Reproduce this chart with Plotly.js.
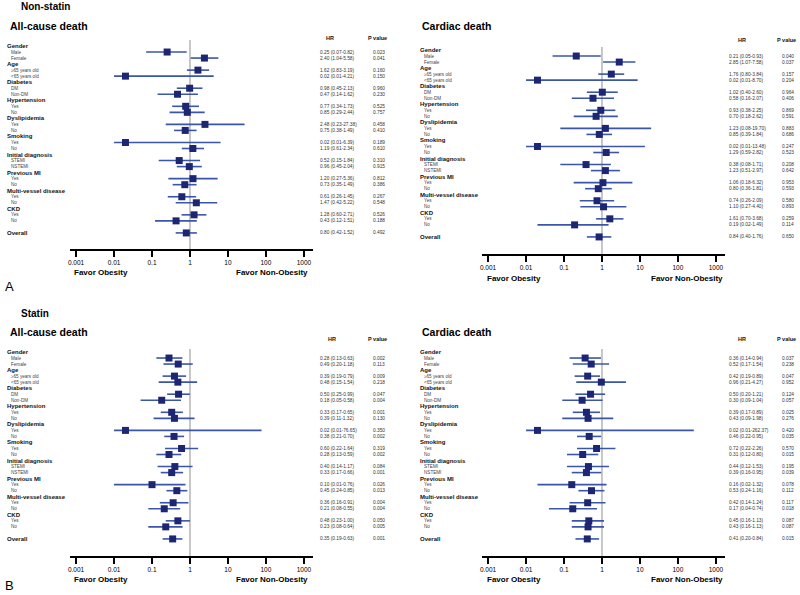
<!DOCTYPE html>
<html>
<head>
<meta charset="utf-8">
<script src="https://cdn.plot.ly/plotly-3.0.1.min.js"></script>
<style>html,body{margin:0;padding:0;background:#fff;}#chart{width:800px;height:595px;}</style>
</head>
<body>
<div id="chart"></div>
<script>
// ---------- DATA ----------
const groups = ["Gender","Age","Diabetes","Hypertension","Dyslipidemia","Smoking","Initial diagnosis","Previous MI","Multi-vessel disease","CKD"];
const subLabels = ["Male","Female","≥65 years old","<65 years old","DM","Non-DM","Yes","No","Yes","No","Yes","No","STEMI","NSTEMI","Yes","No","Yes","No","Yes","No"];
const overallLabel = "Overall";
const tickVals = [0.001,0.01,0.1,1,10,100,1000];
const tickText = ["0.001","0.01","0.1","1","10","100","1000"];

// Non-statin, all-cause death (20 subgroups + overall)
const nsAllHR = [0.25,2.40,1.62,0.02,0.98,0.47,0.77,0.85,2.48,0.75,0.02,1.19,0.52,0.96,1.20,0.73,0.61,1.47,1.28,0.43,0.80];
const nsAllLo = [0.07,1.04,0.83,0.01,0.45,0.14,0.34,0.29,0.23,0.38,0.01,0.61,0.15,0.45,0.27,0.35,0.26,0.42,0.60,0.12,0.42];
const nsAllHi = [0.82,5.58,3.19,4.21,2.13,1.62,1.73,2.44,27.38,1.49,6.39,2.34,1.84,2.04,5.36,1.49,1.45,5.22,2.71,1.51,1.52];
const nsAllP  = ["0.023","0.041","0.160","0.150","0.960","0.230","0.525","0.757","0.458","0.410","0.189","0.610","0.310","0.915","0.812","0.386","0.267","0.548","0.526","0.188","0.492"];

// Non-statin, cardiac death
const nsCarHR = [0.21,2.85,1.76,0.02,1.02,0.58,0.93,0.70,1.23,0.85,0.02,1.29,0.38,1.23,1.06,0.80,0.74,1.10,1.61,0.19,0.84];
const nsCarLo = [0.05,1.07,0.80,0.01,0.40,0.16,0.38,0.18,0.08,0.39,0.01,0.59,0.08,0.51,0.18,0.36,0.26,0.27,0.70,0.02,0.40];
const nsCarHi = [0.93,7.58,3.84,8.70,2.60,2.07,2.25,2.62,19.70,1.84,13.48,2.82,1.71,2.97,6.32,1.81,2.09,4.40,3.68,1.49,1.76];
const nsCarP  = ["0.040","0.037","0.157","0.204","0.964","0.406","0.869","0.591","0.883","0.686","0.247","0.523","0.208","0.642","0.953","0.593","0.580","0.893","0.259","0.114","0.650"];

// Statin, all-cause death
const stAllHR = [0.28,0.49,0.39,0.48,0.50,0.18,0.33,0.39,0.02,0.38,0.60,0.28,0.40,0.33,0.10,0.45,0.36,0.21,0.48,0.23,0.35];
const stAllLo = [0.13,0.20,0.19,0.15,0.25,0.05,0.17,0.11,0.01,0.21,0.22,0.13,0.14,0.17,0.01,0.24,0.16,0.08,0.23,0.08,0.19];
const stAllHi = [0.63,1.18,0.79,1.54,0.99,0.58,0.65,1.32,76.65,0.70,1.64,0.59,1.17,0.66,0.76,0.85,0.91,0.55,1.00,0.64,0.63];
const stAllP  = ["0.002","0.113","0.009","0.218","0.047","0.004","0.001","0.130","0.350","0.002","0.319","0.002","0.084","0.001","0.026","0.013","0.004","0.004","0.050","0.005","0.001"];

// Statin, cardiac death
const stCarHR = [0.36,0.52,0.42,0.96,0.50,0.30,0.39,0.43,0.02,0.46,0.72,0.31,0.44,0.39,0.16,0.53,0.42,0.17,0.45,0.43,0.41];
const stCarLo = [0.14,0.17,0.19,0.21,0.20,0.09,0.17,0.09,0.01,0.22,0.22,0.12,0.12,0.16,0.02,0.24,0.14,0.04,0.16,0.16,0.20];
const stCarHi = [0.94,1.54,0.89,4.27,1.21,1.04,0.89,1.98,262.37,0.95,2.26,0.80,1.53,0.95,1.32,1.16,1.24,0.74,1.13,1.13,0.84];
const stCarP  = ["0.037","0.238","0.047","0.952","0.124","0.057","0.025","0.276","0.420","0.035","0.570","0.015","0.195","0.039","0.078","0.112","0.117","0.018","0.087","0.087","0.015"];

// ---------- LAYOUT HELPERS ----------
const W = 800, H = 595;
const FONT = "Liberation Sans, Arial, sans-serif";
const px = v => v / W;
const py = v => 1 - v / H;
const MARK = "#1c2673";
const LINE = "#3b55a8";

const panels = [
  {hr:nsAllHR, lo:nsAllLo, hi:nsAllHi, p:nsAllP, title:"All-cause death",
   xd:[70,313], yd:[40,249], rowPx:6.03, gPx:46, xr:[-3.16,3.24],
   lx:5, hrx:318, px_:371, hrHead:330, pHead:366, headY:38, favY:273, favL:101, favR:272},
  {hr:nsCarHR, lo:nsCarLo, hi:nsCarHi, p:nsCarP, title:"Cardiac death",
   xd:[482,725], yd:[47,254], rowPx:6.03, gPx:50, xr:[-3.16,3.24],
   lx:418, hrx:727, px_:780, hrHead:742, pHead:775, headY:40, favY:278, favL:514, favR:687},
  {hr:stAllHR, lo:stAllLo, hi:stAllHi, p:stAllP, title:"All-cause death",
   xd:[70,313], yd:[349,556], rowPx:6.03, gPx:352, xr:[-3.16,3.24],
   lx:5, hrx:318, px_:371, hrHead:332, pHead:366, headY:339, favY:579, favL:101, favR:272},
  {hr:stCarHR, lo:stCarLo, hi:stCarHi, p:stCarP, title:"Cardiac death",
   xd:[482,725], yd:[349,556], rowPx:6.03, gPx:352, xr:[-3.16,3.24],
   lx:418, hrx:727, px_:780, hrHead:742, pHead:775, headY:339, favY:579, favL:514, favR:687}
];

const traces = [];
const annotations = [];
const shapes = [];
const layout = {
  width: W, height: H,
  margin: {l:0, r:0, t:0, b:0},
  paper_bgcolor: "#fff", plot_bgcolor: "rgba(0,0,0,0)",
  showlegend: false,
  font: {family: FONT, color: "#000"}
};

function rowOf(i) { // i: 0..19 subgroup, 20 overall
  if (i === 20) return 31;
  return 3 * Math.floor(i / 2) + 1 + (i % 2);
}

panels.forEach((P, k) => {
  const sfx = k === 0 ? "" : String(k + 1);
  const xa = "x" + sfx, ya = "y" + sfx;
  const topR = (P.yd[0] - P.gPx) / P.rowPx;
  const botR = (P.yd[1] - P.gPx) / P.rowPx;
  layout["xaxis" + sfx] = {
    type: "log", domain: [px(P.xd[0]), px(P.xd[1])], range: P.xr, anchor: ya,
    showgrid: false, zeroline: false, showline: true, linecolor: "#000", linewidth: 2,
    ticks: "outside", ticklen: 6, tickwidth: 1.5, tickcolor: "#000",
    tickvals: tickVals, ticktext: tickText, tickfont: {size: 6.5, family: FONT, color: "#000"},
    fixedrange: true
  };
  layout["yaxis" + sfx] = {
    domain: [py(P.yd[1]), py(P.yd[0])], range: [-botR, -topR], anchor: xa,
    visible: false, showgrid: false, zeroline: false, fixedrange: true
  };
  shapes.push({type: "line", xref: xa, yref: ya + " domain", x0: 1, x1: 1, y0: 0, y1: 1,
    line: {color: "#a9a9a9", width: 1.3}, layer: "below"});

  const ys = P.hr.map((_, i) => -rowOf(i));
  traces.push({
    type: "scatter", mode: "markers", xaxis: xa, yaxis: ya,
    x: P.hr, y: ys,
    error_x: {type: "data", symmetric: false,
      array: P.hr.map((v, i) => P.hi[i] - v),
      arrayminus: P.hr.map((v, i) => v - P.lo[i]),
      color: LINE, thickness: 1.6, width: 0},
    marker: {symbol: "square", size: 7, color: MARK},
    hoverinfo: "skip"
  });

  groups.forEach((g, gi) => {
    annotations.push({xref: "paper", yref: ya, x: px(P.lx), y: -3 * gi, text: "<b>" + g + "</b>",
      showarrow: false, xanchor: "left", yanchor: "middle", font: {size: 6, family: FONT, color: "#111"}});
  });
  subLabels.forEach((s, i) => {
    annotations.push({xref: "paper", yref: ya, x: px(P.lx + 4), y: -rowOf(i), text: s,
      showarrow: false, xanchor: "left", yanchor: "middle", font: {size: 4.6, family: FONT, color: "#444"}});
  });
  annotations.push({xref: "paper", yref: ya, x: px(P.lx), y: -31, text: "<b>" + overallLabel + "</b>",
    showarrow: false, xanchor: "left", yanchor: "middle", font: {size: 6, family: FONT, color: "#111"}});

  P.hr.forEach((v, i) => {
    const t = v.toFixed(2) + " (" + P.lo[i].toFixed(2) + "-" + P.hi[i].toFixed(2) + ")";
    annotations.push({xref: "paper", yref: ya, x: px(P.hrx), y: -rowOf(i), text: t,
      showarrow: false, xanchor: "left", yanchor: "middle", font: {size: 4.8, family: FONT, color: "#333"}});
    annotations.push({xref: "paper", yref: ya, x: px(P.px_), y: -rowOf(i), text: P.p[i],
      showarrow: false, xanchor: "left", yanchor: "middle", font: {size: 4.8, family: FONT, color: "#333"}});
  });
  annotations.push({xref: "paper", yref: "paper", x: px(P.hrHead), y: py(P.headY), text: "<b>HR</b>",
    showarrow: false, xanchor: "center", yanchor: "middle", font: {size: 5.5, family: FONT, color: "#111"}});
  annotations.push({xref: "paper", yref: "paper", x: px(P.pHead), y: py(P.headY), text: "<b>P value</b>",
    showarrow: false, xanchor: "left", yanchor: "middle", font: {size: 5.5, family: FONT, color: "#111"}});

  annotations.push({xref: "paper", yref: "paper", x: px(k % 2 === 0 ? 8 : 420), y: py(k < 2 ? 26 : 332),
    text: "<b>" + P.title + "</b>", showarrow: false, xanchor: "left", yanchor: "middle",
    font: {size: 10.5, family: FONT, color: "#000"}});
  annotations.push({xref: "paper", yref: "paper", x: px(P.favL), y: py(P.favY), text: "<b>Favor Obesity</b>",
    showarrow: false, xanchor: "center", yanchor: "middle", font: {size: 8, family: FONT, color: "#000"}});
  annotations.push({xref: "paper", yref: "paper", x: px(P.favR), y: py(P.favY), text: "<b>Favor Non-Obesity</b>",
    showarrow: false, xanchor: "center", yanchor: "middle", font: {size: 8, family: FONT, color: "#000"}});
});

annotations.push({xref: "paper", yref: "paper", x: px(19), y: py(7), text: "<b>Non-statin</b>",
  showarrow: false, xanchor: "left", yanchor: "middle", font: {size: 10, family: FONT, color: "#000"}});
annotations.push({xref: "paper", yref: "paper", x: px(19), y: py(313), text: "<b>Statin</b>",
  showarrow: false, xanchor: "left", yanchor: "middle", font: {size: 10, family: FONT, color: "#000"}});
annotations.push({xref: "paper", yref: "paper", x: px(3), y: py(286), text: "A",
  showarrow: false, xanchor: "left", yanchor: "middle", font: {size: 13, family: FONT, color: "#000"}});
annotations.push({xref: "paper", yref: "paper", x: px(3), y: py(585), text: "B",
  showarrow: false, xanchor: "left", yanchor: "middle", font: {size: 13, family: FONT, color: "#000"}});

layout.annotations = annotations;
layout.shapes = shapes;

Plotly.newPlot("chart", traces, layout, {displayModeBar: false, staticPlot: true});
</script>
</body>
</html>
